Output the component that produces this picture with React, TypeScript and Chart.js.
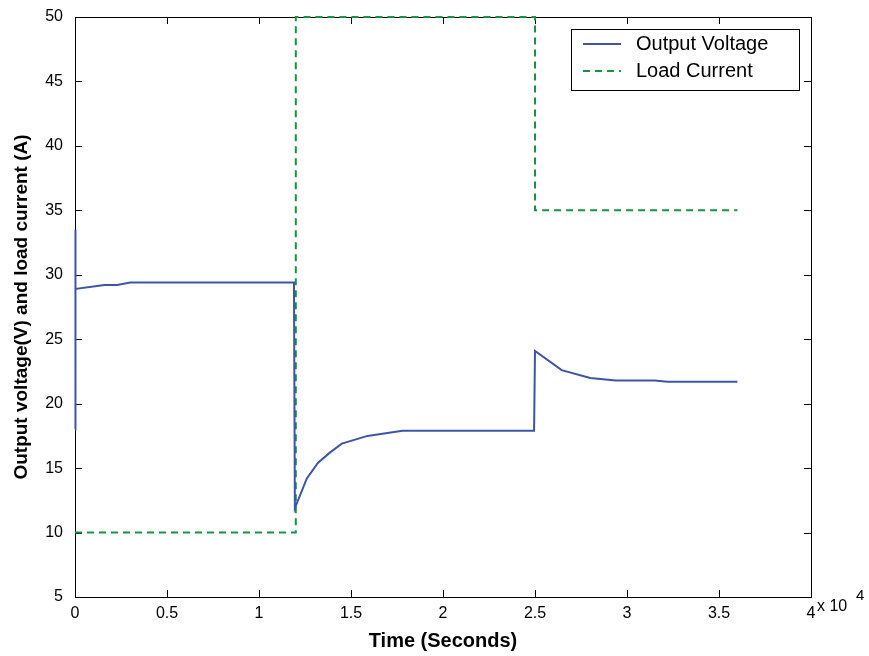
import React, { useEffect, useRef } from "react";
import { Chart, registerables } from "chart.js";

Chart.register(...registerables);

// Simulation time (s) and output voltage (V)
const voltageTime = [0, 0, 50, 1600, 2300, 3000, 11900, 11950, 12600, 13200, 13850, 14500, 15900, 17800, 24950, 25000, 26450, 28000, 29400, 31500, 32200, 36000];
const voltageValues = [18, 33.5, 28.9, 29.2, 29.2, 29.4, 29.4, 11.9, 14.2, 15.4, 16.2, 16.9, 17.5, 17.9, 17.9, 24.1, 22.6, 22.0, 21.8, 21.8, 21.7, 21.7];

// Load current steps (A)
const currentTime = [0, 12000, 12000, 25000, 25000, 36000];
const currentValues = [10, 10, 50, 50, 35, 35];

// Axis ticks
const xTickValues = [0, 5000, 10000, 15000, 20000, 25000, 30000, 35000, 40000];
const xTickLabels = ["0", "0.5", "1", "1.5", "2", "2.5", "3", "3.5", "4"];
const yTickValues = [5, 10, 15, 20, 25, 30, 35, 40, 45, 50];

const seriesLabels = ["Output Voltage", "Load Current"];
const BLUE = "#3c55ab";
const GREEN = "#13973a";
const FONT = "'Liberation Sans', Arial, Helvetica, sans-serif";

// Box frame with inward tick marks on all four sides, exponent label and boxed legend
const framePlugin = {
  id: "frame",
  beforeDatasetsDraw(chart: any) {
    const { ctx, chartArea: a, scales } = chart;
    ctx.save();
    ctx.strokeStyle = "#000";
    ctx.lineWidth = 1;
    ctx.strokeRect(Math.round(a.left) + 0.5, Math.round(a.top) + 0.5, Math.round(a.right - a.left), Math.round(a.bottom - a.top));
    const len = 7;
    ctx.beginPath();
    for (const v of xTickValues) {
      const x = Math.round(scales.x.getPixelForValue(v)) + 0.5;
      ctx.moveTo(x, a.bottom);
      ctx.lineTo(x, a.bottom - len);
      ctx.moveTo(x, a.top);
      ctx.lineTo(x, a.top + len);
    }
    for (const v of yTickValues) {
      const y = Math.round(scales.y.getPixelForValue(v)) + 0.5;
      ctx.moveTo(a.left, y);
      ctx.lineTo(a.left + len, y);
      ctx.moveTo(a.right, y);
      ctx.lineTo(a.right - len, y);
    }
    ctx.stroke();
    ctx.restore();
  },
  afterDraw(chart: any) {
    const { ctx, chartArea: a } = chart;
    ctx.save();
    // exponent of the time axis
    ctx.fillStyle = "#000";
    ctx.font = `16px ${FONT}`;
    ctx.textBaseline = "middle";
    ctx.textAlign = "left";
    ctx.fillText("x 10", a.right + 6, a.bottom + 10);
    ctx.font = `15px ${FONT}`;
    ctx.fillText("4", a.right + 45, a.bottom - 1);

    // legend box
    const bx = 571.5, by = 29.5, bw = 228, bh = 61;
    ctx.fillStyle = "#fff";
    ctx.fillRect(bx, by, bw, bh);
    ctx.strokeStyle = "#000";
    ctx.lineWidth = 1;
    ctx.strokeRect(bx, by, bw, bh);
    const rows = [
      { label: chart.data.datasets[0].label, color: BLUE, dash: [] as number[], y: 44 },
      { label: chart.data.datasets[1].label, color: GREEN, dash: [7, 5], y: 71 },
    ];
    for (const r of rows) {
      ctx.strokeStyle = r.color;
      ctx.lineWidth = 2;
      ctx.setLineDash(r.dash);
      ctx.beginPath();
      ctx.moveTo(583, r.y);
      ctx.lineTo(621, r.y);
      ctx.stroke();
      ctx.setLineDash([]);
      ctx.fillStyle = "#000";
      ctx.font = `20px ${FONT}`;
      ctx.textBaseline = "middle";
      ctx.fillText(r.label, 636, r.y);
    }
    ctx.restore();
  },
};

export default function App() {
  const canvasRef = useRef<HTMLCanvasElement | null>(null);

  useEffect(() => {
    if (!canvasRef.current) return;
    const chart = new Chart(canvasRef.current, {
      type: "line",
      data: {
        datasets: [
          {
            label: seriesLabels[0],
            data: voltageTime.map((t, i) => ({ x: t, y: voltageValues[i] })),
            borderColor: BLUE,
            borderWidth: 2,
            pointRadius: 0,
            tension: 0,
            fill: false,
            clip: 4,
          },
          {
            label: seriesLabels[1],
            data: currentTime.map((t, i) => ({ x: t, y: currentValues[i] })),
            borderColor: GREEN,
            borderWidth: 2,
            borderDash: [7, 5],
            pointRadius: 0,
            tension: 0,
            fill: false,
            clip: 4,
          },
        ],
      },
      options: {
        animation: false,
        responsive: true,
        maintainAspectRatio: false,
        layout: { padding: { top: 17, right: 58, left: 0, bottom: 0 } },
        plugins: { legend: { display: false }, tooltip: { enabled: false } },
        scales: {
          x: {
            type: "linear",
            min: 0,
            max: 40000,
            afterBuildTicks: (scale: any) => {
              scale.ticks = xTickValues.map((v) => ({ value: v }));
            },
            afterFit: (scale: any) => {
              scale.height = 59;
              scale.paddingLeft = 0;
              scale.paddingRight = 0;
            },
            grid: { display: false, drawTicks: false },
            border: { display: false },
            ticks: {
              autoSkip: false,
              maxRotation: 0,
              padding: 7,
              color: "#000",
              font: { family: FONT, size: 16 },
              callback: (v: any) => xTickLabels[xTickValues.indexOf(Number(v))] ?? "",
            },
            title: {
              display: true,
              text: "Time (Seconds)",
              color: "#000",
              font: { family: FONT, size: 20, weight: "bold" },
              padding: { top: 0, bottom: 3 },
            },
          },
          y: {
            type: "linear",
            min: 5,
            max: 50,
            afterBuildTicks: (scale: any) => {
              scale.ticks = yTickValues.map((v) => ({ value: v }));
            },
            afterFit: (scale: any) => {
              scale.width = 75;
              scale.paddingTop = 0;
              scale.paddingBottom = 0;
            },
            grid: { display: false, drawTicks: false },
            border: { display: false },
            ticks: {
              padding: 12,
              color: "#000",
              font: { family: FONT, size: 16 },
            },
            title: {
              display: true,
              text: "Output voltage(V) and load current (A)",
              color: "#000",
              font: { family: FONT, size: 19, weight: "bold" },
              padding: { top: 10, bottom: 0 },
            },
          },
        },
      },
      plugins: [framePlugin],
    });
    return () => chart.destroy();
  }, []);

  return (
    <div style={{ position: "absolute", left: 0, top: 0, width: 869, height: 656, background: "#fff" }}>
      <canvas ref={canvasRef} />
    </div>
  );
}
